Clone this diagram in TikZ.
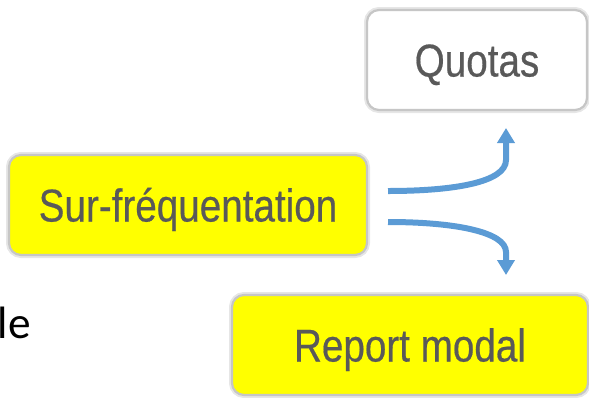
\documentclass[tikz,border=0pt]{standalone}
\usepackage{fontspec}
\usetikzlibrary{arrows.meta}
\newfontfamily\narrowfont[FakeStretch=0.84,FakeBold=0.4]{Liberation Sans}
\newfontfamily\bodyfont{Carlito}
\newlength\px
\setlength\px{0.75pt}
\definecolor{boxtext}{HTML}{595959}
\definecolor{boxyellow}{HTML}{FFFF00}
\definecolor{boxborder}{HTML}{C6C6C6}
\definecolor{boxglow}{HTML}{E6E6E6}
\definecolor{arrowblue}{HTML}{5B9BD5}
\tikzset{
  box/.style={draw=boxborder, line width=2.2\px, rounded corners=12\px,
    inner sep=0pt, text height=33\px, text depth=0pt,
    minimum height=100\px, text=boxtext,
    font=\narrowfont\fontsize{34.5pt}{40pt}\selectfont,
    preaction={draw=boxglow, line width=6\px}},
  yellowbox/.style={box, fill=boxyellow},
  whitebox/.style={box, fill=white},
  flow/.style={draw=arrowblue, line width=4.5pt,
    -{Triangle[width=12.75pt,length=11.25pt]}}
}
\begin{document}
\begin{tikzpicture}[x=\px, y=-\px]
\useasboundingbox (0,0) rectangle (589,397);
\node[whitebox, minimum width=220\px] (quotas) at (477,60) {Quotas};
\node[yellowbox, minimum width=358\px] (sur) at (188,205) {Sur-fréquentation};
\node[yellowbox, minimum width=356\px] (report) at (410,345) {Report modal};
\node[anchor=base east, inner sep=0pt, font=\bodyfont\fontsize{34pt}{40pt}\selectfont] (frag) at (31,338) {le};
\coordinate (up-start) at (388,191);
\coordinate (up-end) at (506,128);
\coordinate (down-start) at (388,222);
\coordinate (down-end) at (506,275);
\draw[flow] (up-start) .. controls (455,191) and (506,182) .. (506,160) -- (up-end);
\draw[flow] (down-start) .. controls (455,222) and (506,232) .. (506,252) -- (down-end);
\end{tikzpicture}
\end{document}
